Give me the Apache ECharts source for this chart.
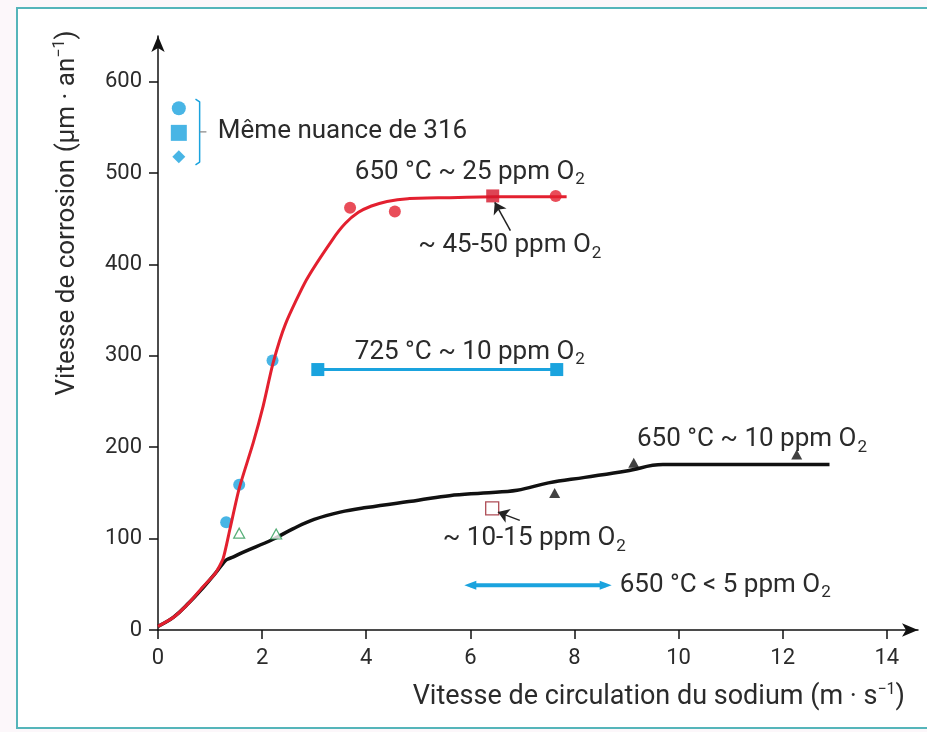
<!DOCTYPE html>
<html>
<head>
<meta charset="utf-8">
<script src="https://cdn.jsdelivr.net/npm/echarts@6/dist/echarts.min.js"></script>
<style>
  html, body { margin: 0; padding: 0; background: #fcf7fa; overflow: hidden; }
  #main { width: 927px; height: 732px; }
</style>
</head>
<body>
<div id="main"></div>
<script>
// courbes lissées (vitesse m/s, corrosion µm/an)
var redCurve = [[0,4],[0.3,14],[0.6,30],[0.86,47],[1.1,62],[1.25,78],[1.38,110],[1.56,155],[1.83,205],
  [2.02,245],[2.21,292],[2.45,335],[2.85,383],[3.35,427],[3.6,445],[3.85,457],[4.1,464],[4.4,469],
  [4.8,472],[5.5,473],[6.5,474],[7.85,474]];
var blackCurve = [[0,4],[0.3,14],[0.6,30],[0.86,46],[1.1,62],[1.25,73],[1.32,77],[1.45,80],[1.63,85],
  [2.2,99],[2.6,111],[3.0,121],[3.5,129],[4.0,134],[5.0,142],[5.6,147],[6.25,150],[6.9,153],
  [7.5,161],[8.2,167],[9.0,174],[9.7,181],[11,181],[12.9,181]];

// points de mesure
var redDots = [[3.69,462],[4.55,458],[7.64,475]];
var redSquare = [[6.43,475]];
var blueDots = [[1.31,118],[1.56,159],[2.2,295]];
var greenTriangles = [[1.56,106],[2.27,105]];
var blackTriangles = [[7.62,150],[9.14,183],[12.27,192]];
var openSquare = [[6.42,133]];
var line725 = [[3.07,285],[7.66,285]];
var line650lt5 = [[6.0,49],[8.6,49]];

// légende "Même nuance de 316"
var legendMarks = [[0.40,571,'circle',14],[0.40,544,'rect',16],[0.40,518,'diamond',13]];

var xTicks = [0,2,4,6,8,10,12,14];
var yTicks = [0,100,200,300,400,500,600];

var labels = [
  { t: 'Même nuance de 316', at: [1.15, 546] },
  { t: '650 °C ~ 25 ppm O', at: [3.78, 501], sub: '2' },
  { t: '~ 45-50 ppm O', at: [5.0, 421], sub: '2' },
  { t: '725 °C ~ 10 ppm O', at: [3.78, 304], sub: '2' },
  { t: '650 °C ~ 10 ppm O', at: [9.2, 208], sub: '2' },
  { t: '~ 10-15 ppm O', at: [5.47, 100], sub: '2' },
  { t: '650 °C < 5 ppm O', at: [8.87, 49], sub: '2' }
];

var blue = '#1aa3de';
var red = '#e3202f';
var txt = '#2b2b2b';
var font = 'Roboto';

var chart = echarts.init(document.getElementById('main'));

var option = {
  backgroundColor: '#fcf7fa',
  animation: false,
  textStyle: { fontFamily: font },
  grid: { left: 158, right: 9, top: 36, bottom: 102 },
  xAxis: {
    type: 'value', min: 0, max: 14.6,
    axisLine: { lineStyle: { color: '#111', width: 1.5 }, symbol: ['none', 'arrow'], symbolSize: [10, 16] },
    axisTick: { customValues: xTicks, length: 9, lineStyle: { color: '#111', width: 1.5 } },
    axisLabel: { customValues: xTicks, color: txt, fontSize: 22, margin: 17, fontFamily: font },
    splitLine: { show: false }
  },
  yAxis: {
    type: 'value', min: 0, max: 650,
    axisLine: { show: true, lineStyle: { color: '#111', width: 1.5 }, symbol: ['none', 'arrow'], symbolSize: [10, 16] },
    axisTick: { show: true, customValues: yTicks, length: 9, lineStyle: { color: '#111', width: 1.5 } },
    axisLabel: { customValues: yTicks, color: txt, fontSize: 22, margin: 16, fontFamily: font },
    splitLine: { show: false }
  },
  series: [
    {
      type: 'line', data: redCurve, smooth: 0.2, symbol: 'none',
      lineStyle: { color: red, width: 3 }, z: 3
    },
    {
      type: 'line', data: blackCurve, smooth: 0.4, symbol: 'none',
      lineStyle: { color: '#111', width: 3.5 }, z: 2
    },
    {
      type: 'line', data: line725, symbol: 'rect', symbolSize: 13,
      lineStyle: { color: blue, width: 3 }, itemStyle: { color: blue }
    },
    {
      type: 'line', data: line650lt5.map(function (p, i) {
        return { value: p, symbolRotate: i === 0 ? 90 : -90 };
      }),
      symbol: 'triangle', symbolSize: [9, 12],
      lineStyle: { color: blue, width: 4 }, itemStyle: { color: blue }
    },
    { type: 'scatter', data: redDots, symbol: 'circle', symbolSize: 12, itemStyle: { color: red }, z: 4 },
    { type: 'scatter', data: redSquare, symbol: 'rect', symbolSize: 13, itemStyle: { color: '#d4172a' }, z: 4 },
    { type: 'scatter', data: blueDots, symbol: 'circle', symbolSize: 12, itemStyle: { color: blue }, z: 1 },
    {
      type: 'scatter', data: greenTriangles, symbol: 'triangle', symbolSize: [11, 10],
      itemStyle: { color: '#fff', borderColor: '#2c9a55', borderWidth: 1.2 }, z: 4
    },
    { type: 'scatter', data: blackTriangles, symbol: 'triangle', symbolSize: [11, 10], itemStyle: { color: '#111' }, z: 4 },
    {
      type: 'scatter', data: openSquare, symbol: 'rect', symbolSize: 13,
      itemStyle: { color: '#fff', borderColor: '#9a1f2a', borderWidth: 1.3 }, z: 4
    },
    {
      type: 'scatter',
      data: legendMarks.map(function (m) {
        return { value: [m[0], m[1]], symbol: m[2], symbolSize: m[3] };
      }),
      itemStyle: { color: blue }
    },
    // accolade de la légende
    {
      type: 'line', data: [[0.72,581],[0.80,578],[0.80,512],[0.72,509]], symbol: 'none',
      lineStyle: { color: blue, width: 1.5 }
    },
    {
      type: 'line', data: [[0.80,545],[0.93,545]], symbol: 'none',
      lineStyle: { color: '#888', width: 1.2 },
      // flèches d'annotation
      markLine: {
        silent: true, symbol: ['none', 'arrow'], symbolSize: 11, label: { show: false },
        lineStyle: { color: '#222', width: 1.5, type: 'solid' },
        data: [
          [{ coord: [6.77, 437] }, { coord: [6.47, 468] }],
          [{ coord: [6.95, 120] }, { coord: [6.53, 129] }]
        ]
      }
    }
  ]
};
chart.setOption(option);

function buildGraphics() {
  var rich = {
    m: { fontSize: 26, fontFamily: font, fill: txt, color: txt },
    t: { fontSize: 27, fontFamily: font, fill: txt, color: txt },
    y: { fontSize: 26, fontFamily: font, fill: txt, color: txt },
    s: { fontSize: 17, fontFamily: font, fill: txt, color: txt, padding: [16, 0, 0, 1] },
    p: { fontSize: 16, fontFamily: font, fill: txt, color: txt, padding: [0, 0, 14, 0] }
  };
  var g = [
    {
      type: 'rect', x: 17, y: 8, silent: true, z: -10,
      shape: { width: 1000, height: 720 },
      style: { fill: '#fff' }
    },
    {
      type: 'polyline', silent: true, z: -9,
      shape: { points: [[1000, 8], [17, 8], [17, 728], [1000, 728]] },
      style: { fill: null, stroke: '#55b5ba', lineWidth: 2 }
    }
  ];
  labels.forEach(function (l) {
    var p = chart.convertToPixel({ gridIndex: 0 }, l.at);
    g.push({
      type: 'text', x: p[0], y: p[1], z: 10,
      style: {
        text: '{m|' + l.t + '}' + (l.sub ? '{s|' + l.sub + '}' : ''),
        rich: rich, verticalAlign: 'middle', align: 'left'
      }
    });
  });
  g.push({
    type: 'text', x: 905, y: 697, z: 10,
    style: { text: '{t|Vitesse de circulation du sodium (m · s}{p|−1}{t|)}', rich: rich, align: 'right', verticalAlign: 'middle' }
  });
  g.push({
    type: 'text', x: 67, y: 213, z: 10, rotation: Math.PI / 2,
    style: { text: '{y|Vitesse de corrosion (µm · an}{p|−1}{y|)}', rich: rich, align: 'center', verticalAlign: 'middle' }
  });
  chart.setOption({ graphic: g });
}
buildGraphics();
</script>
</body>
</html>
